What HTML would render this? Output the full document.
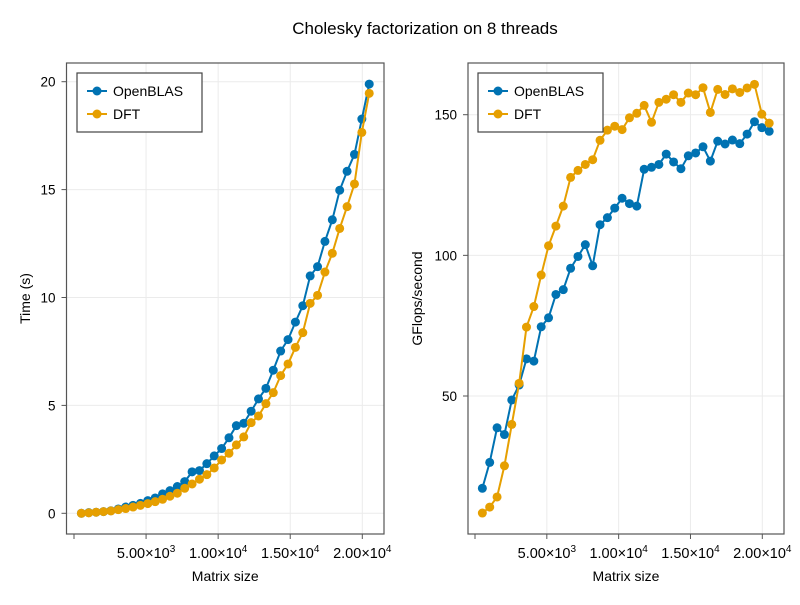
<!DOCTYPE html>
<html><head><meta charset="utf-8"><style>
body{margin:0;background:#fff;font-family:"Liberation Sans",sans-serif;}
svg text{font-family:"Liberation Sans",sans-serif;fill:#000;}
</style></head><body>
<svg id="c" width="800" height="600" xmlns="http://www.w3.org/2000/svg">
<rect width="800" height="600" fill="#fff"/>
<text x="425" y="34" font-size="17" text-anchor="middle">Cholesky factorization on 8 threads</text>
</svg>
<script>
const sizes = Array.from({length:40},(_,i)=>512*(i+1));
const timeOpenBLAS=[0,0.03,0.05,0.08,0.12,0.2,0.29,0.37,0.46,0.59,0.71,0.9,1.05,1.24,1.47,1.92,1.98,2.3,2.66,3.0,3.5,4.06,4.17,4.73,5.3,5.79,6.63,7.52,8.05,8.86,9.62,11.0,11.43,12.6,13.6,14.97,15.85,16.63,18.27,19.89];
const timeDFT=[0,0.02,0.05,0.08,0.11,0.17,0.22,0.29,0.37,0.45,0.54,0.65,0.79,0.93,1.16,1.36,1.58,1.79,2.1,2.47,2.78,3.17,3.54,4.2,4.51,5.08,5.59,6.38,6.92,7.69,8.37,9.73,10.1,11.18,12.05,13.2,14.21,15.26,17.65,19.46];
const gflopsOpenBLAS=[17.2,26.4,38.7,36.3,48.6,53.9,63.2,62.4,74.6,77.8,86.1,87.8,95.4,99.6,103.8,96.3,110.9,113.4,116.8,120.3,118.4,117.5,130.6,131.3,132.3,136,133.2,130.8,135.4,136.4,138.6,133.5,140.6,139.6,141,139.7,143.1,147.5,145.4,144.1];
const gflopsDFT=[8.4,10.5,14.1,25.2,39.9,54.5,74.5,81.8,93,103.4,110.4,117.5,127.7,130.2,132.3,134,140.9,144.5,145.9,144.7,148.9,150.5,153.3,147.3,154.4,155.5,157.1,154.4,157.7,157.1,159.6,150.8,159,157.2,159.2,157.9,159.5,160.8,150.2,147];
const xTicks=[5000,10000,15000,20000];
const xTickLabels=[["5.00×10","3"],["1.00×10","4"],["1.50×10","4"],["2.00×10","4"]];
const yTicksLeft=[0,5,10,15,20];
const yTicksRight=[50,100,150];
const seriesNames=["OpenBLAS","DFT"];
const colors=["#0072b2","#e69f00"];

const NS="http://www.w3.org/2000/svg";
const svg=document.getElementById('c');
function mk(t,a,p){const e=document.createElementNS(NS,t);for(const k in a)e.setAttribute(k,a[k]);(p||svg).appendChild(e);return e;}

function panel(o){
  const g=mk('g',{});
  
  
  const X=v=>o.x0+(v-0)*(o.x2e4-o.x0)/20000;
  const Y=v=>o.yA+(v-o.vA)*(o.yB-o.yA)/(o.vB-o.vA);
  xTicks.forEach(t=>{const l=mk('line',{x1:X(t),x2:X(t),y1:o.top,y2:o.bot,stroke:'#ebebeb','stroke-width':1},g);
    });
  o.yt.forEach(t=>{const l=mk('line',{x1:o.left,x2:o.right,y1:Y(t),y2:Y(t),stroke:'#ebebeb','stroke-width':1},g);
    });
  const fr=mk('rect',{x:o.left,y:o.top,width:o.right-o.left,height:o.bot-o.top,fill:'none',stroke:'#555','stroke-width':1.2},g);
  
  [0].concat(xTicks).forEach(t=>{mk('line',{x1:X(t),x2:X(t),y1:o.bot,y2:o.bot+5,stroke:'#555'},g);});
  xTicks.forEach((t,i)=>{const tx=mk('text',{x:X(t),y:o.bot+24,'font-size':14.5,'text-anchor':'middle'},g);
    
    tx.textContent=xTickLabels[i][0];const s=mk('tspan',{'font-size':10,dy:-6},tx);s.textContent=xTickLabels[i][1];});
  o.yt.forEach(t=>{mk('line',{x1:o.left-5,x2:o.left,y1:Y(t),y2:Y(t),stroke:'#555'},g);
    const tx=mk('text',{x:o.left-11,y:Y(t)+5,'font-size':13.5,'text-anchor':'end'},g);
    tx.textContent=t;});
  const xt=mk('text',{x:(o.left+o.right)/2,y:581,'font-size':14,'text-anchor':'middle'},g);
  xt.textContent='Matrix size';
  const yt=mk('text',{x:0,y:0,'font-size':14,'text-anchor':'middle',transform:`translate(${o.ytx},${(o.top+o.bot)/2}) rotate(-90)`},g);
  yt.textContent=o.ytitle;
  o.series.forEach((d,si)=>{
    const pts=d.map((v,i)=>X(sizes[i])+','+Y(v)).join(' ');
    const pl=mk('polyline',{points:pts,fill:'none',stroke:colors[si],'stroke-width':2},g);
    
    d.forEach((v,i)=>{const c=mk('circle',{cx:X(sizes[i]),cy:Y(v),r:4.5,fill:colors[si]},g);
      });
  });
  const lg=mk('g',{},g);
  
  mk('rect',{x:o.lx,y:73,width:125,height:59,fill:'#fff',stroke:'#444','stroke-width':1.2},lg);
  seriesNames.forEach((n,i)=>{const yy=91+i*23;
    const e=mk('g',{},lg);
    mk('line',{x1:o.lx+10,x2:o.lx+30,y1:yy,y2:yy,stroke:colors[i],'stroke-width':2},e);
    mk('circle',{cx:o.lx+20,cy:yy,r:4.5,fill:colors[i]},e);
    const t=mk('text',{x:o.lx+36,y:yy+5,'font-size':14},e);t.textContent=n;});
}
panel({name:'time-panel',left:66.5,right:384,top:63,bot:534,x0:74,x2e4:362.3,yA:513.3,vA:0,yB:81.7,vB:20,yt:yTicksLeft,ytx:30,ytitle:'Time (s)',series:[timeOpenBLAS,timeDFT],lx:77});
panel({name:'gflops-panel',left:468,right:784,top:63,bot:534,x0:475,x2e4:762.3,yA:396,vA:50,yB:114.7,vB:150,yt:yTicksRight,ytx:422,ytitle:'GFlops/second',series:[gflopsOpenBLAS,gflopsDFT],lx:478});
</script>
</body></html>
